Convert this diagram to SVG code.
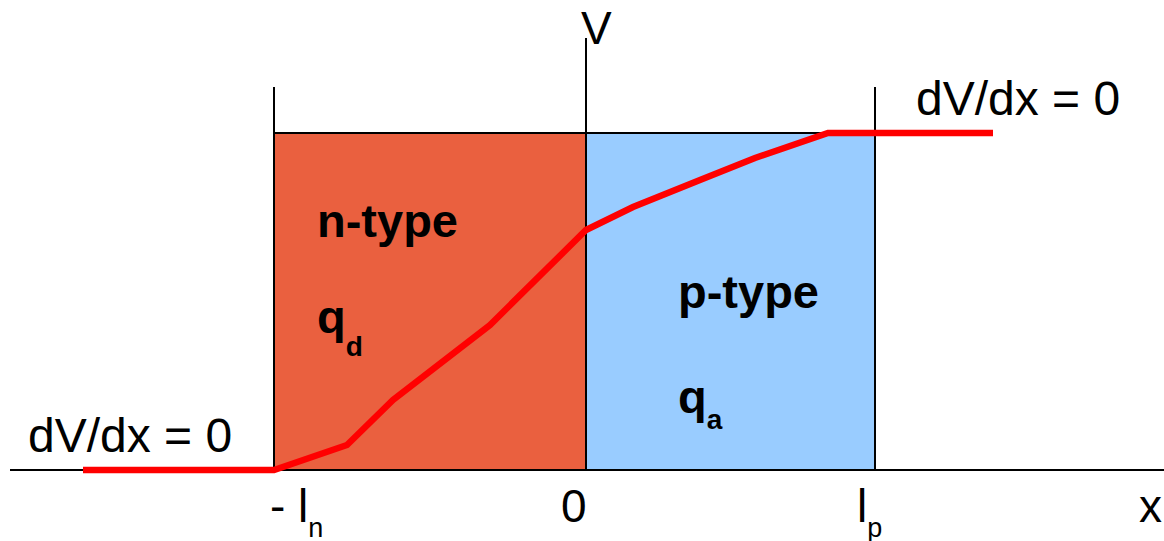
<svg xmlns="http://www.w3.org/2000/svg" width="1164" height="541" viewBox="0 0 1164 541">
<style>
.ax{stroke:#000;stroke-width:2;fill:none}
.t{font-family:"Liberation Sans",Arial,sans-serif;fill:#000}
.b{font-family:"Liberation Sans",Arial,sans-serif;font-weight:bold;fill:#000}
</style>
<rect width="1164" height="541" fill="#fff"/>
<g id="n-region">
<rect x="274" y="133" width="312" height="337" fill="#EA603F" stroke="#000" stroke-width="2"/>
<text class="b" x="317" y="237" font-size="47">n-type</text>
<text class="b" x="317" y="333" font-size="47">q<tspan font-size="28" dy="23">d</tspan></text>
</g>
<g id="p-region">
<rect x="586" y="133" width="289" height="337" fill="#99CCFF" stroke="#000" stroke-width="2"/>
<text class="b" x="678" y="308" font-size="47">p-type</text>
<text class="b" x="678" y="413" font-size="47">q<tspan font-size="28" dy="16">a</tspan></text>
</g>
<g id="axes">
<line class="ax" x1="10" y1="470" x2="1164" y2="470"/>
<line class="ax" x1="586" y1="38" x2="586" y2="470"/>
<line class="ax" x1="274" y1="87" x2="274" y2="133"/>
<line class="ax" x1="875" y1="87" x2="875" y2="133"/>
</g>
<g id="connectors">
<polyline points="83,470 274,470 347,445 393,400 490,325 586,230 633,207 700,180 755,158 828,133 993,133" fill="none" stroke="#FF0000" stroke-width="6.5" stroke-linejoin="miter"/>
</g>
<g id="labels">
<text class="t" x="581" y="44" font-size="46">V</text>
<text class="t" x="28" y="452" font-size="48">dV/dx = 0</text>
<text class="t" x="916" y="115" font-size="48">dV/dx = 0</text>
<text class="t" x="270" y="522" font-size="46">- l<tspan font-size="27" dy="15">n</tspan></text>
<text class="t" x="561" y="522" font-size="46">0</text>
<text class="t" x="857" y="522" font-size="46">l<tspan font-size="27" dy="15">p</tspan></text>
<text class="t" x="1139" y="522" font-size="46">x</text>
</g>
</svg>
